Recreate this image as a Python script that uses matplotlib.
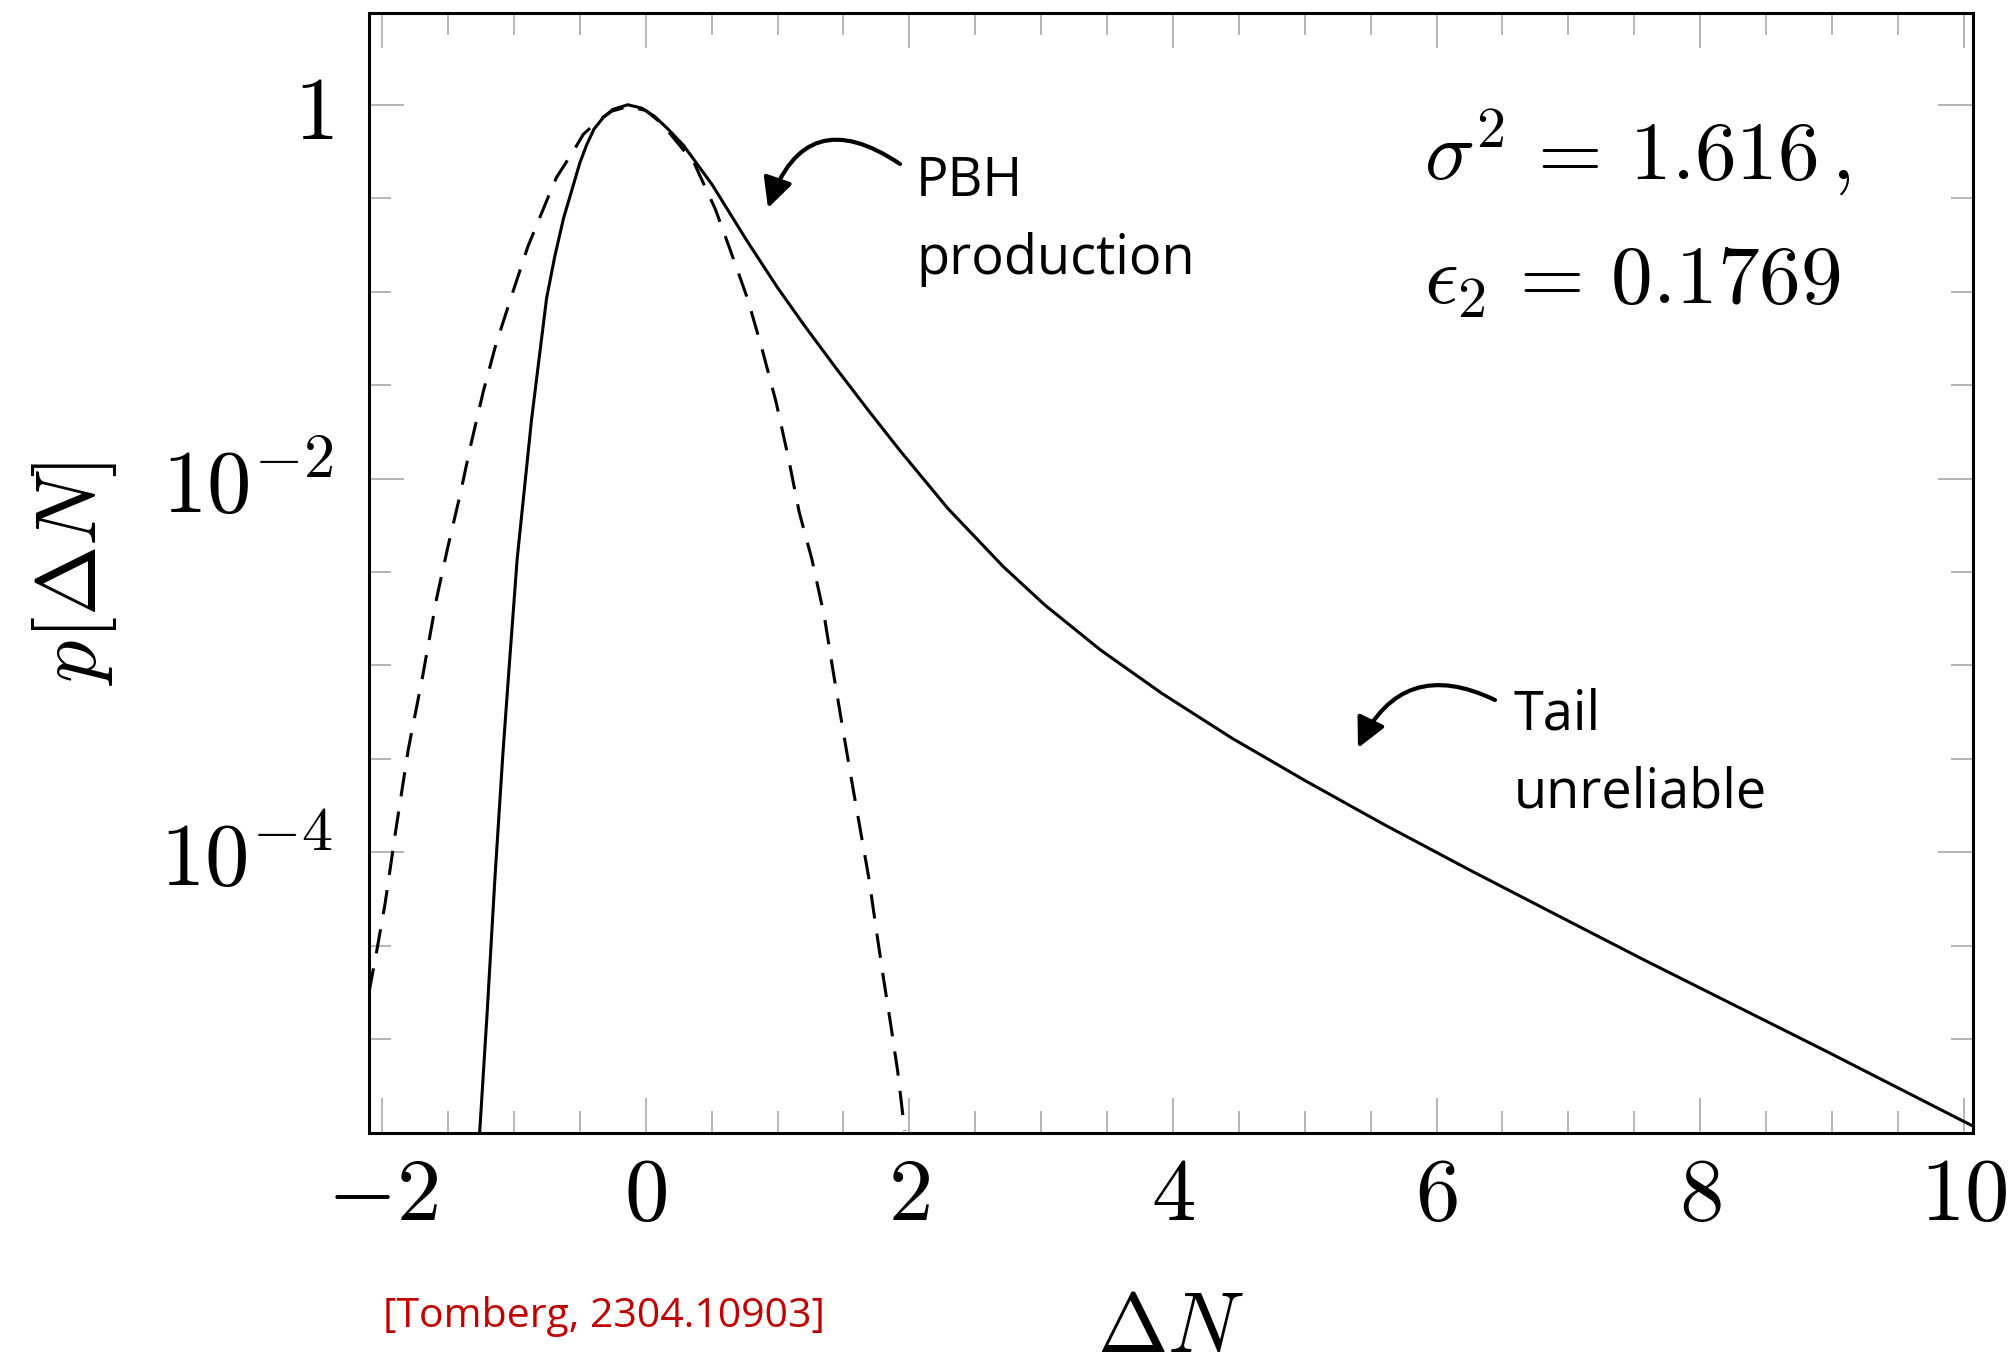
import matplotlib
matplotlib.use('Agg')
import numpy as np
import matplotlib.pyplot as plt
from matplotlib.ticker import FixedLocator, NullFormatter


# p[dN] de la simulacion completa (linea continua)
dN_full = [-1.26, -1.203, -1.145, -1.085, -1.040, -0.976, -0.867, -0.753, -0.69,
           -0.624, -0.50, -0.45, -0.393, -0.32, -0.25, -0.136, -0.03, 0.068, 0.17,
           0.285, 0.502, 0.772, 1.0, 1.206, 1.45, 1.694, 1.929, 2.294, 2.712, 3.026,
           3.45, 3.914, 4.45, 5.011, 5.6, 6.266, 7.0, 7.572, 8.930, 10.0, 10.07]
p_full = [3.2e-6, 1.41e-5, 7.2e-5, 3.3e-4, 9.1e-4, 3.7e-3, 0.0206, 0.0918, 0.155,
          0.247, 0.489, 0.607, 0.741, 0.859, 0.944, 1.0, 0.959, 0.865, 0.74,
          0.608, 0.375, 0.185, 0.105, 0.0655, 0.0384, 0.0229, 0.0141, 6.89e-3, 3.38e-3, 2.11e-3,
          1.21e-3, 7.10e-4, 4.07e-4, 2.40e-4, 1.41e-4, 7.94e-5, 4.29e-5, 2.66e-5, 8.81e-6, 3.63e-6, 3.43e-6]

# aproximacion gaussiana (linea discontinua)
dN_gauss = [-2.10, -2.046, -1.978, -1.897, -1.802, -1.693, -1.585, -1.504, -1.409,
            -1.328, -1.233, -1.138, -1.016, -0.895, -0.745, -0.677, -0.555, -0.474,
            -0.36, -0.257, -0.136, 0.0, 0.122, 0.366, 0.528, 0.637, 0.772, 0.881,
            0.989, 1.084, 1.165, 1.260, 1.354, 1.423, 1.490, 1.558, 1.626, 1.694,
            1.747, 1.802, 1.856, 1.911, 1.964]
p_gauss = [1.78e-5, 2.84e-5, 5.31e-5, 1.31e-4, 3.55e-4, 8.75e-4, 2.32e-3, 4.23e-3, 8.18e-3,
           0.0151, 0.0292, 0.0519, 0.0959, 0.174, 0.315, 0.409, 0.557, 0.695,
           0.822, 0.925, 0.977, 0.933, 0.792, 0.489, 0.276, 0.170, 0.0918, 0.0497,
           0.0256, 0.0127, 6.56e-3, 3.71e-3, 1.84e-3, 9.16e-4, 4.80e-4, 2.51e-4, 1.34e-4, 7.18e-5,
           3.93e-5, 2.15e-5, 1.23e-5, 6.76e-6, 3.24e-6]

x_ticks = [-2, 0, 2, 4, 6, 8, 10]
x_tick_labels = ['$-2$', '$0$', '$2$', '$4$', '$6$', '$8$', '$10$']
y_ticks = [1, 1e-2, 1e-4]
y_tick_labels = ['$1$', '$10^{-2}$', '$10^{-4}$']

params_lines = [r'$\sigma^2 \,=\, 1.616\,,$', r'$\epsilon_2 \,=\, 0.1769$']
cita = '[Tomberg, 2304.10903]'

W, H = 2015, 1369
texto_fuente = ['Open Sans', 'DejaVu Sans']


def fig_xy(x, y):
    # pixel de la imagen (origen arriba) -> fraccion de figura
    return x / W, 1 - y / H


def main():
    plt.rcParams['mathtext.fontset'] = 'cm'
    fig = plt.figure(figsize=(W / 100, H / 100), dpi=100)
    ax = fig.add_axes([369 / W, 1 - 1133 / H, (1973 - 369) / W, (1133 - 13) / H])

    ax.plot(dN_full, p_full, color='black', lw=2.2, solid_joinstyle='round')
    ax.plot(dN_gauss, p_gauss, color='black', lw=2.2, linestyle=(0, (8, 5)))

    ax.set_yscale('log')
    ax.set_xlim(-2.10, 10.07)
    ax.set_ylim(10 ** -5.502, 10 ** 0.491)

    ax.xaxis.set_major_locator(FixedLocator(x_ticks))
    ax.set_xticklabels(x_tick_labels)
    ax.xaxis.set_minor_locator(FixedLocator(np.arange(-2, 10.01, 0.5)))
    ax.yaxis.set_major_locator(FixedLocator(y_ticks))
    ax.set_yticklabels(y_tick_labels)
    ax.yaxis.set_minor_locator(FixedLocator(10.0 ** np.arange(-5.5, 0.01, 0.5)))
    ax.yaxis.set_minor_formatter(NullFormatter())

    ax.tick_params(which='both', direction='in', top=True, right=True,
                   color='#a0a0a0', width=1.1)
    ax.tick_params(which='major', length=25)
    ax.tick_params(which='minor', length=16)
    ax.tick_params(axis='x', which='major', labelsize=64, pad=14)
    ax.tick_params(axis='y', which='major', labelsize=64, pad=26)
    for s in ax.spines.values():
        s.set_linewidth(2.2)

    ax.set_xlabel(r'$\Delta N$', fontsize=61, labelpad=34)
    ax.set_ylabel(r'$p[\Delta N]$', fontsize=61, labelpad=30)

    # parametros
    fig.text(*fig_xy(1424, 180), params_lines[0], fontsize=60, ha='left', va='baseline')
    fig.text(*fig_xy(1424, 304), params_lines[1], fontsize=60, ha='left', va='baseline')

    # anotaciones
    fig.text(*fig_xy(916, 196), 'PBH', fontsize=39, family=texto_fuente, va='baseline')
    fig.text(*fig_xy(916, 274), 'production', fontsize=39, family=texto_fuente, va='baseline')
    fig.text(*fig_xy(1514, 729), 'Tail', fontsize=39, family=texto_fuente, va='baseline')
    fig.text(*fig_xy(1514, 807), 'unreliable', fontsize=39, family=texto_fuente, va='baseline')

    flecha = dict(arrowstyle='-|>,head_length=0.5,head_width=0.25', color='black',
                  lw=3, mutation_scale=36, shrinkA=0, shrinkB=0)
    ax.annotate('', xy=(768, H - 208), xycoords='figure pixels',
                xytext=(900, H - 164), textcoords='figure pixels',
                arrowprops=dict(flecha, connectionstyle='arc3,rad=0.65'))
    ax.annotate('', xy=(1358, H - 748), xycoords='figure pixels',
                xytext=(1495, H - 700), textcoords='figure pixels',
                arrowprops=dict(flecha, connectionstyle='arc3,rad=0.5'))

    fig.text(*fig_xy(383, 1327), cita, fontsize=29.5, family=texto_fuente,
             color='#c00000', va='baseline')

    fig.savefig('out.png', dpi=100)


main()
